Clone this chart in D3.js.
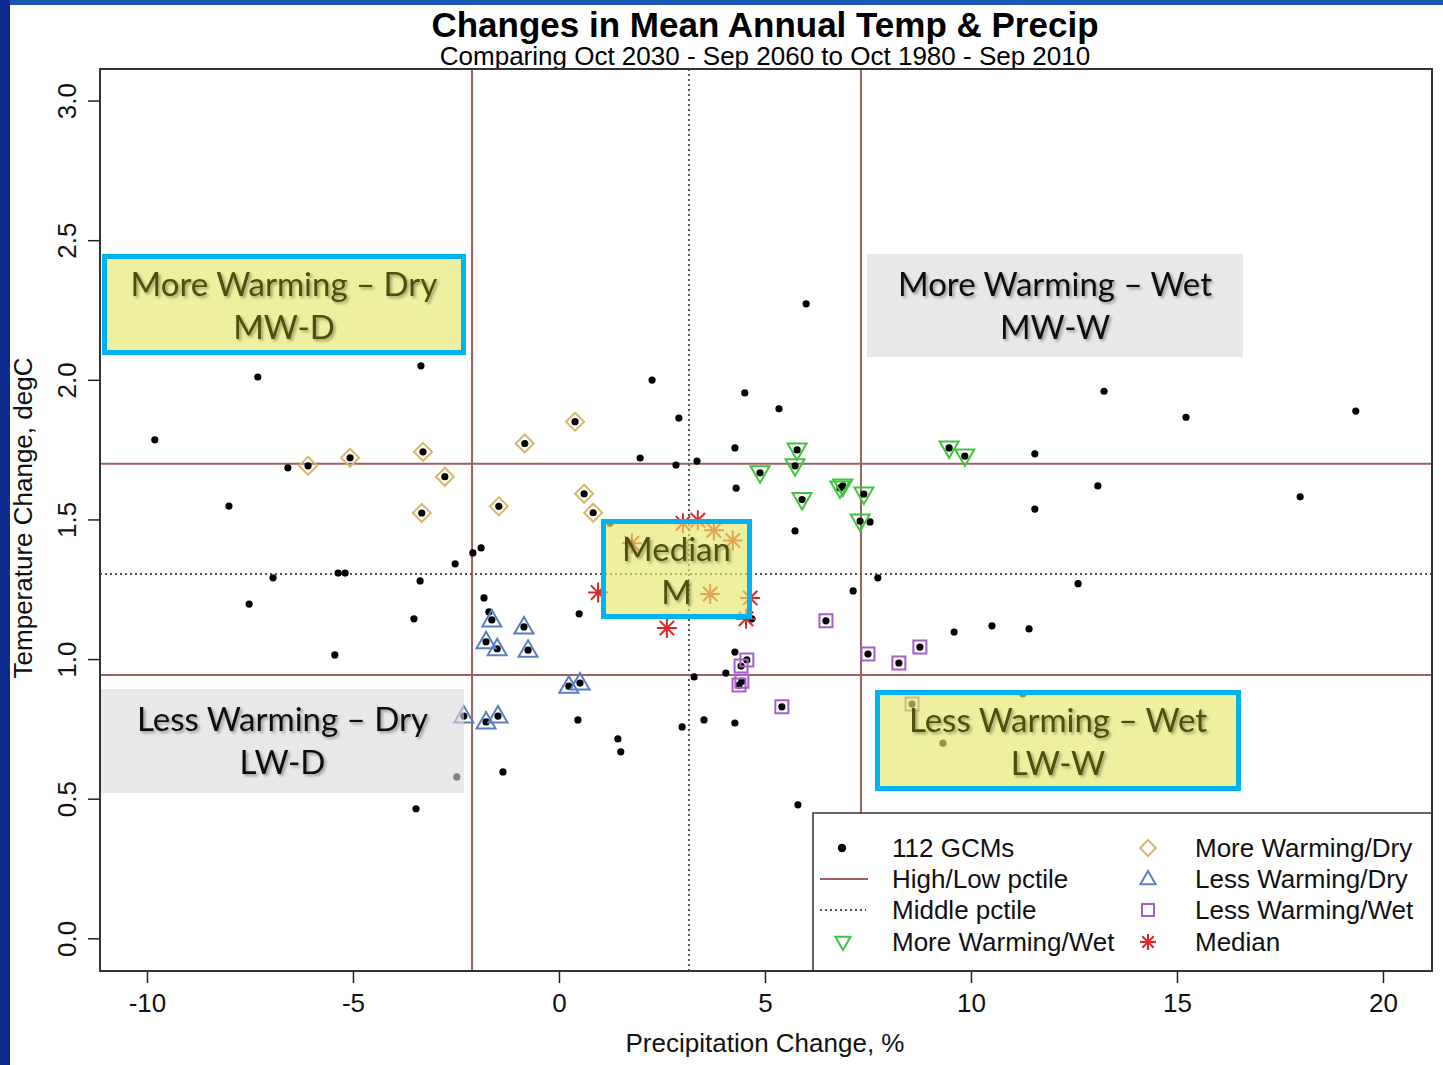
<!DOCTYPE html>
<html>
<head>
<meta charset="utf-8">
<script src="https://cdn.jsdelivr.net/npm/d3@7"></script>
<style>
  body { margin: 0; background: #fff; }
  svg { display: block; font-family: "Liberation Sans", Arial, sans-serif; }
</style>
</head>
<body>
<svg id="chart" width="1443" height="1065"></svg>
<script>
// values: [precip change %, temp change degC]
const otherGCMs = [
  [-7.31, 2.01], [-3.35, 2.05], [-9.81, 1.785], [-6.58, 1.685], [-8.01, 1.548],
  [-2.09, 1.38], [-1.89, 1.398], [-2.52, 1.341], [-6.94, 1.291], [-5.36, 1.308],
  [-5.19, 1.308], [-3.37, 1.28], [-7.52, 1.197], [-3.52, 1.144], [-5.44, 1.015],
  [-1.82, 1.219], [-1.70, 1.169], [0.49, 1.162], [0.46, 0.782], [1.43, 0.714],
  [1.50, 0.668], [-1.36, 0.596], [-2.48, 0.578], [-3.47, 0.464], [2.26, 1.999],
  [4.51, 1.953], [5.34, 1.896], [2.91, 1.863], [4.27, 1.756], [1.97, 1.72],
  [3.35, 1.709], [2.84, 1.695], [4.30, 1.612], [5.73, 1.459], [6.00, 2.272],
  [1.24, 1.487], [7.14, 1.244], [7.74, 1.291], [7.55, 1.491], [13.23, 1.959],
  [15.22, 1.866], [19.34, 1.888], [11.55, 1.735], [13.08, 1.62], [17.99, 1.581],
  [11.55, 1.537], [12.60, 1.27], [9.59, 1.097], [10.51, 1.119], [11.41, 1.108],
  [3.28, 0.936], [4.05, 0.95], [4.27, 1.025], [2.99, 0.757], [3.52, 0.782],
  [4.27, 0.771], [5.80, 0.478], [4.68, 1.144], [9.32, 0.699], [11.26, 0.875]
];
const moreWarmDry = [
  [-6.09, 1.692], [-5.07, 1.721], [-3.30, 1.742], [-2.77, 1.653], [-3.33, 1.523],
  [-0.83, 1.772], [0.39, 1.85], [0.61, 1.592], [0.83, 1.524], [-1.46, 1.547]
];
const lessWarmDry = [
  [-1.63, 1.14], [-0.85, 1.115], [-1.77, 1.062], [-1.50, 1.037], [-0.75, 1.032],
  [0.24, 0.903], [0.51, 0.914], [-2.31, 0.796], [-1.77, 0.775], [-1.48, 0.796]
];
const moreWarmWet = [
  [5.78, 1.749], [5.73, 1.692], [4.88, 1.667], [6.89, 1.62], [6.82, 1.613],
  [5.90, 1.571], [7.40, 1.591], [7.31, 1.494], [9.47, 1.756], [9.85, 1.727]
];
const lessWarmWet = [
  [6.48, 1.137], [4.56, 0.997], [4.42, 0.975], [7.50, 1.018], [8.76, 1.043],
  [8.25, 0.986], [4.44, 0.921], [4.37, 0.907], [5.41, 0.829], [8.57, 0.839]
];
const medianGCMs = [
  [0.95, 1.238], [2.62, 1.111], [3.01, 1.486], [3.37, 1.497], [3.76, 1.461],
  [4.22, 1.425], [1.77, 1.415], [3.67, 1.233], [4.64, 1.219], [4.54, 1.144]
];
const precipPctl = [-2.11, 3.155, 7.33];   // low, middle, high
const tempPctl = [0.943, 1.305, 1.699];
const xTicks = [-10, -5, 0, 5, 10, 15, 20];
const yTicks = [0, 0.5, 1, 1.5, 2, 2.5, 3];

const W = 1443, H = 1065;
const plot = { left: 100, right: 1432, top: 69, bottom: 971 };

const svg = d3.select("#chart");

// slide frame
svg.append("rect").attr("width", W).attr("height", H).attr("fill", "#fff");
svg.append("rect").attr("width", W).attr("height", 5).attr("fill", "#1b56b2");
svg.append("rect").attr("width", 10).attr("height", H).attr("fill", "#0d2b8c");

const defs = svg.append("defs");
defs.append("filter").attr("id", "shadow")
  .attr("x", "-10%").attr("y", "-30%").attr("width", "120%").attr("height", "160%")
  .append("feDropShadow")
  .attr("dx", 2).attr("dy", 2).attr("stdDeviation", 1.5)
  .attr("flood-color", "#000").attr("flood-opacity", 0.35);

const x = d3.scaleLinear().domain([-11.14, 21.19]).range([plot.left, plot.right]);
const y = d3.scaleLinear().domain([-0.117, 3.113]).range([plot.bottom, plot.top]);

// titles
svg.append("text").attr("x", 765).attr("y", 37).attr("text-anchor", "middle")
  .attr("font-size", 35).attr("font-weight", "bold").attr("fill", "#000")
  .text("Changes in Mean Annual Temp & Precip");
svg.append("text").attr("x", 765).attr("y", 65).attr("text-anchor", "middle")
  .attr("font-size", 26).attr("fill", "#000")
  .text("Comparing Oct 2030 - Sep 2060 to Oct 1980 - Sep 2010");

// axes
const xAxis = svg.append("g")
  .attr("transform", "translate(0," + plot.bottom + ")")
  .call(d3.axisBottom(x).tickValues(xTicks).tickSize(12).tickFormat(d => String(d)));
xAxis.select(".domain").remove();
xAxis.selectAll("line").attr("stroke", "#222").attr("stroke-width", 1.5);
xAxis.selectAll("text").attr("y", 41).attr("dy", null)
  .attr("font-size", 26).attr("font-family", "Liberation Sans, Arial, sans-serif").attr("fill", "#111");

const yAxis = svg.append("g")
  .attr("transform", "translate(" + plot.left + ",0)")
  .call(d3.axisLeft(y).tickValues(yTicks).tickSize(12).tickFormat(d => d.toFixed(1)));
yAxis.select(".domain").remove();
yAxis.selectAll("line").attr("stroke", "#222").attr("stroke-width", 1.5);
yAxis.selectAll("text").attr("x", null).attr("dy", null)
  .attr("transform", "translate(-24,0) rotate(-90)").attr("text-anchor", "middle")
  .attr("font-size", 26).attr("font-family", "Liberation Sans, Arial, sans-serif").attr("fill", "#111");

svg.append("text").attr("x", 765).attr("y", 1052).attr("text-anchor", "middle")
  .attr("font-size", 26).attr("fill", "#111").text("Precipitation Change, %");
svg.append("text").attr("transform", "translate(32,518) rotate(-90)").attr("text-anchor", "middle")
  .attr("font-size", 26).attr("fill", "#111").text("Temperature Change, degC");

// percentile lines
const lineCol = "#a0605e";
const g = svg.append("g");
g.selectAll(".vline").data(precipPctl).enter().append("line")
  .attr("x1", d => x(d)).attr("x2", d => x(d))
  .attr("y1", plot.top).attr("y2", plot.bottom)
  .attr("stroke", (d, i) => i === 1 ? "#555" : lineCol)
  .attr("stroke-width", 2)
  .attr("stroke-dasharray", (d, i) => i === 1 ? "2,3" : null);
g.selectAll(".hline").data(tempPctl).enter().append("line")
  .attr("y1", d => y(d)).attr("y2", d => y(d))
  .attr("x1", plot.left).attr("x2", plot.right)
  .attr("stroke", (d, i) => i === 1 ? "#555" : lineCol)
  .attr("stroke-width", 2)
  .attr("stroke-dasharray", (d, i) => i === 1 ? "2,3" : null);

// symbols
const shapes = {
  diamond: r => `M0,${-r}L${r},0L0,${r}L${-r},0Z`,
  triUp: r => `M0,${-r}L${r * 0.95},${r * 0.65}L${-r * 0.95},${r * 0.65}Z`,
  triDown: r => `M0,${r}L${r * 0.95},${-r * 0.65}L${-r * 0.95},${-r * 0.65}Z`,
  square: r => `M${-r},${-r}H${r}V${r}H${-r}Z`,
  star: r => {
    const k = r * 0.72;
    return `M${-r},0H${r}M0,${-r}V${r}M${-k},${-k}L${k},${k}M${-k},${k}L${k},${-k}`;
  }
};
const groups = [
  { pts: moreWarmDry, shape: "diamond", size: 9, color: "#d8b96c", label: "More Warming/Dry" },
  { pts: lessWarmDry, shape: "triUp", size: 10, color: "#5b7ec2", label: "Less Warming/Dry" },
  { pts: lessWarmWet, shape: "square", size: 6.5, color: "#a45fc9", label: "Less Warming/Wet" },
  { pts: moreWarmWet, shape: "triDown", size: 10, color: "#3fc63f", label: "More Warming/Wet" },
  { pts: medianGCMs, shape: "star", size: 10, color: "#e0262a", label: "Median" }
];

const dots = otherGCMs.concat(moreWarmDry, lessWarmDry, lessWarmWet, moreWarmWet);
g.selectAll(".dot").data(dots).enter().append("circle")
  .attr("cx", d => x(d[0])).attr("cy", d => y(d[1])).attr("r", 3.6).attr("fill", "#000");

groups.forEach(grp => {
  g.selectAll(null).data(grp.pts).enter().append("path")
    .attr("transform", d => "translate(" + x(d[0]) + "," + y(d[1]) + ")")
    .attr("d", shapes[grp.shape](grp.size))
    .attr("fill", "none").attr("stroke", grp.color).attr("stroke-width", 2);
});

// quadrant notes (semi-transparent, marks show through)
const notes = [
  { x0: 102, y0: 254, x1: 466, y1: 355, kind: "hi", lines: ["More Warming \u2013 Dry", "MW-D"] },
  { x0: 867, y0: 254, x1: 1243, y1: 357, kind: "lo", lines: ["More Warming \u2013 Wet", "MW-W"] },
  { x0: 601, y0: 519, x1: 752, y1: 619, kind: "hi", lines: ["Median", "M"] },
  { x0: 101, y0: 689, x1: 464, y1: 793, kind: "lo", lines: ["Less Warming \u2013 Dry", "LW-D"] },
  { x0: 875, y0: 690, x1: 1241, y1: 791, kind: "hi", lines: ["Less Warming \u2013 Wet", "LW-W"] }
];
notes.forEach(n => {
  const hi = n.kind === "hi";
  const bw = hi ? 5 : 0;
  svg.append("rect")
    .attr("x", n.x0 + bw / 2).attr("y", n.y0 + bw / 2)
    .attr("width", n.x1 - n.x0 - bw).attr("height", n.y1 - n.y0 - bw)
    .attr("fill", hi ? "#e5e86d" : "#d9d9d9").attr("fill-opacity", hi ? 0.65 : 0.6)
    .attr("stroke", hi ? "#00b2ee" : "none").attr("stroke-width", bw);
  n.lines.forEach((t, i) => {
    svg.append("text")
      .attr("x", (n.x0 + n.x1) / 2).attr("y", n.y0 + 42 + i * 43)
      .attr("text-anchor", "middle").attr("font-family", "Lato, 'Open Sans', sans-serif")
      .attr("font-size", 33).attr("fill", hi ? "#4e500e" : "#111")
      .attr("filter", "url(#shadow)").text(t);
  });
});

// legend
const leg = svg.append("g");
leg.append("rect").attr("x", 813).attr("y", 813).attr("width", plot.right - 813).attr("height", plot.bottom - 813)
  .attr("fill", "#fff").attr("stroke", "#333").attr("stroke-width", 1.5);
const legRows = [848, 879, 910, 942];
const legLeft = [
  { type: "dot", label: "112 GCMs" },
  { type: "solid", label: "High/Low pctile" },
  { type: "dotted", label: "Middle pctile" },
  { type: "group", grp: groups[3], label: groups[3].label }
];
const legRight = [groups[0], groups[1], groups[2], groups[4]];
legLeft.forEach((e, i) => {
  const ly = legRows[i];
  if (e.type === "dot") leg.append("circle").attr("cx", 842).attr("cy", ly).attr("r", 4.2).attr("fill", "#000");
  if (e.type === "solid") leg.append("line").attr("x1", 820).attr("x2", 868).attr("y1", ly).attr("y2", ly)
    .attr("stroke", lineCol).attr("stroke-width", 2);
  if (e.type === "dotted") leg.append("line").attr("x1", 820).attr("x2", 866).attr("y1", ly).attr("y2", ly)
    .attr("stroke", "#555").attr("stroke-width", 2).attr("stroke-dasharray", "2,3");
  if (e.type === "group") leg.append("path").attr("transform", "translate(843," + ly + ")")
    .attr("d", shapes[e.grp.shape](8)).attr("fill", "none").attr("stroke", e.grp.color).attr("stroke-width", 2);
  leg.append("text").attr("x", 892).attr("y", ly + 9).attr("font-size", 26).attr("fill", "#111").text(e.label);
});
legRight.forEach((grp, i) => {
  const ly = legRows[i];
  leg.append("path").attr("transform", "translate(1148," + ly + ")")
    .attr("d", shapes[grp.shape](grp.shape === "square" ? 6 : 8))
    .attr("fill", "none").attr("stroke", grp.color).attr("stroke-width", 2);
  leg.append("text").attr("x", 1195).attr("y", ly + 9).attr("font-size", 26).attr("fill", "#111").text(grp.label);
});

// plot frame
svg.append("rect").attr("x", plot.left).attr("y", plot.top)
  .attr("width", plot.right - plot.left).attr("height", plot.bottom - plot.top)
  .attr("fill", "none").attr("stroke", "#333").attr("stroke-width", 2);
</script>
</body>
</html>
